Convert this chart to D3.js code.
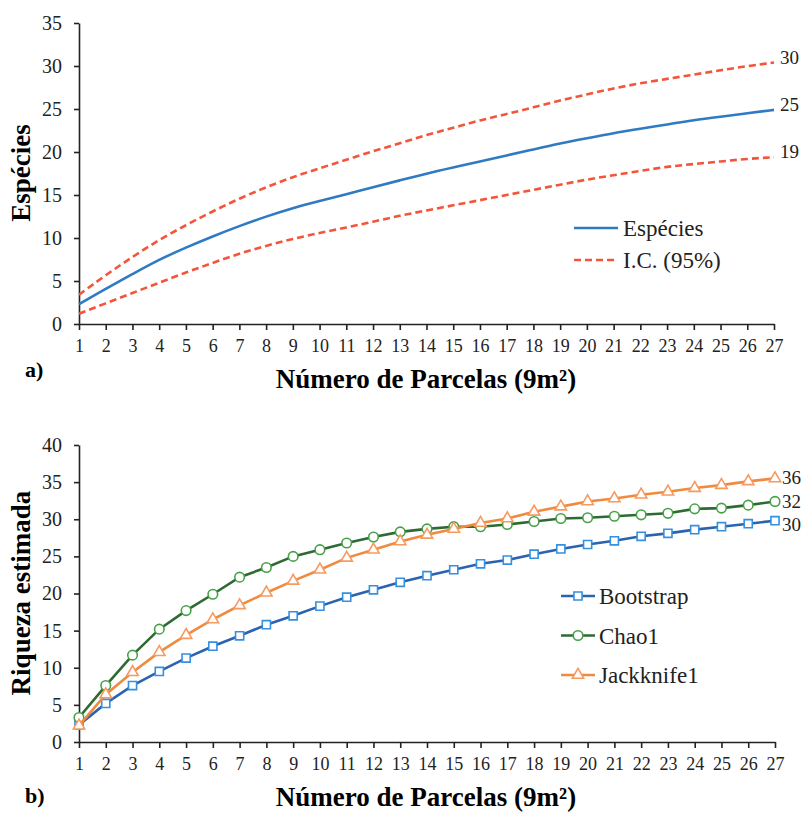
<!DOCTYPE html>
<html>
<head>
<meta charset="utf-8">
<script src="https://cdn.jsdelivr.net/npm/d3@7"></script>
<style>
  body { margin: 0; background: #fff; }
  .axis path, .axis line { stroke: #222; stroke-width: 1.6; }
  .axis text { fill: #222; }
</style>
</head>
<body>
<svg width="805" height="813"></svg>
<script>
// x categories: number of plots
const parcelas = d3.range(1, 28);

// panel a) accumulation curve + 95% CI
const especies = [2.3, 4.1, 5.8, 7.5, 8.9, 10.2, 11.4, 12.5, 13.5, 14.3, 15.1, 15.9, 16.7, 17.5, 18.2, 18.9, 19.6, 20.3, 21.0, 21.6, 22.2, 22.7, 23.2, 23.7, 24.1, 24.5, 24.9];
const icSup = [3.4, 5.7, 7.8, 9.8, 11.5, 13.1, 14.6, 15.9, 17.1, 18.1, 19.1, 20.1, 21.0, 22.0, 22.8, 23.7, 24.4, 25.2, 26.0, 26.7, 27.4, 28.0, 28.5, 29.0, 29.5, 30.0, 30.4];
const icInf = [1.2, 2.4, 3.6, 4.8, 6.0, 7.1, 8.2, 9.1, 9.9, 10.6, 11.2, 11.9, 12.6, 13.2, 13.8, 14.4, 15.0, 15.6, 16.2, 16.8, 17.3, 17.8, 18.3, 18.6, 18.9, 19.2, 19.4];
const endLabelsA = ['30', '25', '19'];

// panel b) richness estimators
const bootstrap = [2.3, 5.2, 7.6, 9.5, 11.3, 12.9, 14.3, 15.8, 17.0, 18.3, 19.5, 20.5, 21.5, 22.4, 23.2, 24.0, 24.5, 25.3, 26.0, 26.6, 27.1, 27.7, 28.1, 28.6, 29.0, 29.4, 29.8];
const chao1 = [3.3, 7.6, 11.7, 15.2, 17.7, 19.9, 22.2, 23.5, 25.0, 25.9, 26.8, 27.6, 28.3, 28.7, 29.0, 29.0, 29.3, 29.7, 30.1, 30.2, 30.4, 30.6, 30.8, 31.4, 31.5, 31.9, 32.4];
const jackknife1 = [2.2, 6.4, 9.4, 12.1, 14.4, 16.5, 18.4, 20.1, 21.7, 23.2, 24.8, 25.9, 27.0, 27.9, 28.7, 29.5, 30.1, 31.0, 31.7, 32.4, 32.8, 33.3, 33.7, 34.2, 34.6, 35.1, 35.5];
const endLabelsB = ['30', '32', '36'];

const FONT = "'Liberation Serif', 'Times New Roman', Times, serif";

const svg = d3.select('svg');

function drawAxes(x, y, yTicks, yTitle, yTitleY, panelLabel, panelY, titleY) {
    svg.append('g')
        .attr('class', 'axis')
        .attr('transform', `translate(0, ${y.range()[0]})`)
        .call(d3.axisBottom(x).tickValues(parcelas).tickSize(6).tickSizeOuter(0).tickPadding(9))
        .attr('font-family', FONT)
        .selectAll('text').attr('font-size', 18);

    svg.append('g')
        .attr('class', 'axis')
        .attr('transform', `translate(${x.range()[0]}, 0)`)
        .call(d3.axisLeft(y).tickValues(yTicks).tickSize(5).tickSizeOuter(0).tickPadding(12))
        .attr('font-family', FONT)
        .selectAll('text').attr('font-size', 20);

    svg.append('text')
        .attr('transform', `translate(30, ${yTitleY}) rotate(-90)`)
        .attr('text-anchor', 'middle')
        .attr('font-family', FONT)
        .attr('font-size', 27)
        .attr('font-weight', 'bold')
        .text(yTitle);

    svg.append('text')
        .attr('x', 426)
        .attr('y', titleY)
        .attr('text-anchor', 'middle')
        .attr('font-family', FONT)
        .attr('font-size', 27)
        .attr('font-weight', 'bold')
        .text('Número de Parcelas (9m²)');

    svg.append('text')
        .attr('x', 25)
        .attr('y', panelY)
        .attr('font-family', FONT)
        .attr('font-size', 22)
        .attr('font-weight', 'bold')
        .text(panelLabel);
}

// ---------- panel a ----------
const xA = d3.scaleLinear().domain([1, 27]).range([79, 774]);
const yA = d3.scaleLinear().domain([0, 35]).range([324, 23]);

drawAxes(xA, yA, d3.range(0, 36, 5), 'Espécies', 173, 'a)', 377, 388);

const lineA = d3.line()
    .x((d, i) => xA(parcelas[i]))
    .y(d => yA(d))
    .curve(d3.curveBasis);

const seriesA = [
    { values: icSup, color: '#f4553a', dash: '7,4', label: endLabelsA[0], dy: -5 },
    { values: especies, color: '#2f7bc3', dash: null, label: endLabelsA[1], dy: -6 },
    { values: icInf, color: '#f4553a', dash: '7,4', label: endLabelsA[2], dy: -6 }
];

seriesA.forEach(s => {
    svg.append('path')
        .datum(s.values)
        .attr('fill', 'none')
        .attr('stroke', s.color)
        .attr('stroke-width', 2.6)
        .attr('stroke-dasharray', s.dash)
        .attr('d', lineA);
    svg.append('text')
        .attr('x', xA(27) + 6)
        .attr('y', yA(s.values[26]) + s.dy)
        .attr('dy', '0.35em')
        .attr('font-family', FONT)
        .attr('font-size', 19)
        .attr('fill', '#222')
        .text(s.label);
});

const legA = [
    { name: 'Espécies', color: '#2f7bc3', dash: null },
    { name: 'I.C. (95%)', color: '#f4553a', dash: '7,4' }
];
legA.forEach((d, i) => {
    const ly = 228 + i * 32;
    svg.append('line')
        .attr('x1', 574).attr('x2', 618).attr('y1', ly).attr('y2', ly)
        .attr('stroke', d.color).attr('stroke-width', 2.6)
        .attr('stroke-dasharray', d.dash);
    svg.append('text')
        .attr('x', 623).attr('y', ly).attr('dy', '0.35em')
        .attr('font-family', FONT)
        .attr('font-size', 23).attr('fill', '#222')
        .text(d.name);
});

// ---------- panel b ----------
const xB = d3.scaleLinear().domain([1, 27]).range([79, 775]);
const yB = d3.scaleLinear().domain([0, 40]).range([742, 445]);

drawAxes(xB, yB, d3.range(0, 41, 5), 'Riqueza estimada', 593, 'b)', 803, 806);

const lineB = d3.line()
    .x((d, i) => xB(parcelas[i]))
    .y(d => yB(d));

const seriesB = [
    { name: 'Bootstrap', values: bootstrap, line: '#2b63b0', mark: '#3590e0', shape: d3.symbolSquare, size: 66, label: endLabelsB[0], dy: 4 },
    { name: 'Chao1', values: chao1, line: '#2e6a33', mark: '#46a046', shape: d3.symbolCircle, size: 72, label: endLabelsB[1], dy: 0 },
    { name: 'Jackknife1', values: jackknife1, line: '#f08a3e', mark: '#f69a60', shape: d3.symbolTriangle, size: 56, label: endLabelsB[2], dy: -1 }
];

seriesB.forEach(s => {
    svg.append('path')
        .datum(s.values)
        .attr('fill', 'none')
        .attr('stroke', s.line)
        .attr('stroke-width', 2.6)
        .attr('d', lineB);
    svg.append('g')
        .selectAll('path')
        .data(s.values)
        .enter()
        .append('path')
        .attr('transform', (d, i) => `translate(${xB(parcelas[i])}, ${yB(d)})`)
        .attr('d', d3.symbol().type(s.shape).size(s.size))
        .attr('fill', '#fff')
        .attr('stroke', s.mark)
        .attr('stroke-width', 1.6);
    svg.append('text')
        .attr('x', xB(27) + 7)
        .attr('y', yB(s.values[26]) + s.dy)
        .attr('dy', '0.35em')
        .attr('font-family', FONT)
        .attr('font-size', 19)
        .attr('fill', '#222')
        .text(s.label);
});

seriesB.forEach((s, i) => {
    const ly = 596 + i * 39.5;
    svg.append('line')
        .attr('x1', 561).attr('x2', 595).attr('y1', ly).attr('y2', ly)
        .attr('stroke', s.line).attr('stroke-width', 2.6);
    svg.append('path')
        .attr('transform', `translate(578, ${ly})`)
        .attr('d', d3.symbol().type(s.shape).size(s.size))
        .attr('fill', '#fff')
        .attr('stroke', s.mark)
        .attr('stroke-width', 1.6);
    svg.append('text')
        .attr('x', 599).attr('y', ly).attr('dy', '0.35em')
        .attr('font-family', FONT)
        .attr('font-size', 23).attr('fill', '#222')
        .text(s.name);
});
</script>
</body>
</html>
